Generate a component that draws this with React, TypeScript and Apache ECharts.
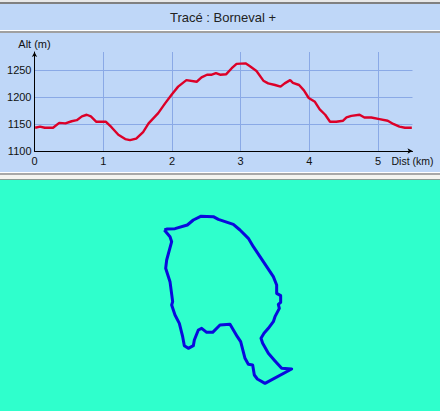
import React, { useEffect, useRef } from "react";
import * as echarts from "echarts";

const TITLE = "Tracé : Borneval +";
const distKm = [0.01,0.08,0.15,0.27,0.36,0.45,0.54,0.615,0.69,0.76,0.82,0.90,1.04,1.12,1.22,1.32,1.39,1.48,1.58,1.66,1.80,1.90,2.0,2.09,2.21,2.36,2.43,2.51,2.58,2.64,2.70,2.79,2.87,2.94,3.07,3.13,3.23,3.33,3.40,3.50,3.58,3.64,3.72,3.76,3.85,3.92,3.99,4.08,4.15,4.23,4.30,4.39,4.49,4.54,4.61,4.73,4.80,4.90,5.02,5.14,5.22,5.31,5.39,5.49];
const altM = [1143,1145,1143,1143,1152,1151,1155,1157,1164,1167,1164,1154,1154,1144,1130,1122,1120,1123,1135,1151,1170,1188,1205,1219,1231,1228,1236,1241,1241,1244,1241,1242,1253,1261,1262,1257,1248,1230,1225,1222,1219,1225,1231,1226,1222,1212,1198,1191,1177,1167,1154,1154,1156,1162,1165,1167,1162,1162,1159,1156,1150,1145,1143,1143];
const trackX = [43,52,75,112,130,152,190,205,250,270,295,310,330,350,370,380,380,392,392,385,388,375,370,355,342,333,338,355,375,395,425,345,322,313,308,295,285,272,262,240,210,188,170,155,145,133,130,115,103,98,88,75,65,68,60,47,50,65,60,43];
const trackY = [75,72,71,60,45,34,35,43,58,75,100,125,155,185,215,240,265,272,292,298,310,335,350,370,385,400,415,445,468,490,492,535,522,510,480,478,460,410,395,358,360,382,382,370,375,405,422,430,422,395,355,330,300,290,230,190,165,110,95,75];

const FONT = "'Liberation Sans'";
const PANEL = "#BFD7F8";
const GRID = "#8AA9E6";
const TURQ = "#2FFFCC";

const band = (y: number, h: number, fill: string) => ({
  type: "rect", z: -10, silent: true,
  shape: { x: 0, y, width: 440, height: h }, style: { fill },
});

export default function App() {
  const ref = useRef<HTMLDivElement>(null);
  useEffect(() => {
    const chart = echarts.init(ref.current!, null, { renderer: "svg", width: 440, height: 411 });
    const lbl = { fontFamily: FONT, fontSize: 11, color: "#111" };
    chart.setOption({
      animation: false,
      backgroundColor: "#F4F4F0",
      title: {
        text: TITLE, left: 218, top: 6, textAlign: "center",
        textStyle: { fontFamily: FONT, fontSize: 13, fontWeight: "normal", color: "#222" },
      },
      graphic: [
        band(0, 2, "#E8E8E8"), band(2, 2, "#808080"),
        band(4, 26, PANEL), band(30, 1, "#FFFFFF"), band(31, 2, "#A0A0A0"),
        band(33, 139, PANEL), band(172, 1, "#FFFFFF"), band(173, 2, "#A8A8A8"),
        band(175, 4, "#F4F4F0"), band(179, 1, "#8A9A94"), band(180, 231, TURQ),
      ],
      grid: [
        { left: 34.5, top: 52, width: 378, height: 99 },
        { left: 150, top: 205, width: 150, height: 190 },
      ],
      xAxis: [
        {
          type: "value", gridIndex: 0, min: 0, max: 5.5, interval: 1,
          name: "Dist (km)", nameLocation: "end", nameGap: -21,
          nameTextStyle: { ...lbl, fontSize: 10.5, verticalAlign: "top", padding: [4, 0, 0, 0] },
          axisLine: { lineStyle: { color: "#000", width: 1 }, symbol: ["none", "arrow"], symbolSize: [4, 5] },
          axisTick: { show: false },
          axisLabel: { ...lbl, margin: 4, showMaxLabel: false },
          splitLine: { show: true, showMinLine: false, showMaxLine: false, lineStyle: { color: GRID, width: 1 } },
        },
        { type: "value", gridIndex: 1, min: 0, max: 450, show: false, splitLine: { show: false } },
      ],
      yAxis: [
        {
          type: "value", gridIndex: 0, min: 1100, max: 1283, interval: 50,
          name: "Alt (m)", nameLocation: "end", nameGap: 3,
          nameTextStyle: { ...lbl, align: "center" },
          axisLine: { show: true, lineStyle: { color: "#000", width: 1 }, symbol: ["none", "arrow"], symbolSize: [4, 5] },
          axisTick: { show: false },
          axisLabel: { ...lbl, margin: 3, showMaxLabel: false, formatter: (v: number) => String(v) },
          splitLine: { show: true, showMinLine: false, showMaxLine: false, lineStyle: { color: GRID, width: 1 } },
        },
        { type: "value", gridIndex: 1, min: 0, max: 570, inverse: true, show: false, splitLine: { show: false } },
      ],
      series: [
        {
          type: "line", xAxisIndex: 0, yAxisIndex: 0, showSymbol: false, silent: true,
          data: distKm.map((d, i) => [d, altM[i]]),
          lineStyle: { color: "#DC0028", width: 2.4 },
        },
        {
          type: "line", xAxisIndex: 1, yAxisIndex: 1, showSymbol: false, silent: true,
          data: trackX.map((x, i) => [x, trackY[i]]),
          lineStyle: { color: "#0A0ADC", width: 3, join: "round" },
        },
      ],
    });
    return () => chart.dispose();
  }, []);
  return <div ref={ref} style={{ position: "fixed", left: 0, top: 0, width: 440, height: 411 }} />;
}
